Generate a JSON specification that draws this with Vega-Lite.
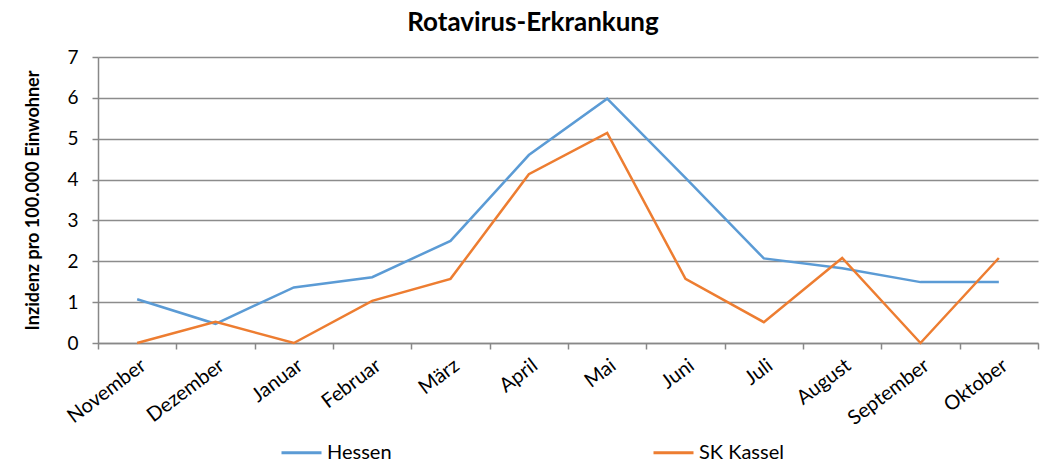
{
  "$schema": "https://vega.github.io/schema/vega-lite/v6.json",
  "autosize": "none",
  "width": 940,
  "height": 286,
  "padding": {"left": 98, "top": 57, "right": 15, "bottom": 119},
  "background": "white",
  "config": {"font": "Lato", "view": {"stroke": null}},
  "title": {"text": "Rotavirus-Erkrankung", "font": "Lato", "fontSize": 26, "fontWeight": "bold", "color": "#000000", "anchor": "middle", "offset": 12, "dx": -35},
  "data": {"values": [
    {"m": "November", "s": "Hessen", "v": 1.07},
    {"m": "Dezember", "s": "Hessen", "v": 0.47},
    {"m": "Januar", "s": "Hessen", "v": 1.36},
    {"m": "Februar", "s": "Hessen", "v": 1.61},
    {"m": "März", "s": "Hessen", "v": 2.5},
    {"m": "April", "s": "Hessen", "v": 4.6},
    {"m": "Mai", "s": "Hessen", "v": 5.98},
    {"m": "Juni", "s": "Hessen", "v": 4.04},
    {"m": "Juli", "s": "Hessen", "v": 2.07},
    {"m": "August", "s": "Hessen", "v": 1.83},
    {"m": "September", "s": "Hessen", "v": 1.49},
    {"m": "Oktober", "s": "Hessen", "v": 1.49},
    {"m": "November", "s": "SK Kassel", "v": 0},
    {"m": "Dezember", "s": "SK Kassel", "v": 0.52},
    {"m": "Januar", "s": "SK Kassel", "v": 0},
    {"m": "Februar", "s": "SK Kassel", "v": 1.03},
    {"m": "März", "s": "SK Kassel", "v": 1.57},
    {"m": "April", "s": "SK Kassel", "v": 4.13},
    {"m": "Mai", "s": "SK Kassel", "v": 5.14},
    {"m": "Juni", "s": "SK Kassel", "v": 1.57},
    {"m": "Juli", "s": "SK Kassel", "v": 0.51},
    {"m": "August", "s": "SK Kassel", "v": 2.08},
    {"m": "September", "s": "SK Kassel", "v": 0},
    {"m": "Oktober", "s": "SK Kassel", "v": 2.08}
  ]},
  "mark": {"type": "line", "strokeWidth": 2.5},
  "encoding": {
    "x": {
      "field": "m", "type": "nominal", "sort": null,
      "scale": {"paddingInner": 0, "paddingOuter": 0},
      "axis": {
        "title": null, "labelAngle": -37, "labelAlign": "right", "labelBaseline": "top",
        "labelFont": "Lato", "labelFontSize": 20, "labelColor": "#000000", "labelPadding": 6, "labelOffset": 0,
        "domainColor": "#888888", "domainWidth": 1.5, "tickColor": "#888888", "tickWidth": 1.5, "tickSize": 6,
        "tickBand": "extent", "grid": false
      }
    },
    "y": {
      "field": "v", "type": "quantitative",
      "scale": {"domain": [0, 7], "nice": false},
      "axis": {
        "title": "Inzidenz pro 100.000 Einwohner", "titleFont": "Lato", "titleFontSize": 18, "titleFontWeight": "bold",
        "titleColor": "#000000", "titlePadding": 24,
        "values": [0, 1, 2, 3, 4, 5, 6, 7], "labelFont": "Lato", "labelFontSize": 19, "labelColor": "#000000", "labelPadding": 14,
        "domainColor": "#888888", "domainWidth": 1.5, "tickColor": "#888888", "tickWidth": 1.5, "tickSize": 6,
        "gridColor": "#8c8c8c", "gridWidth": 1.5
      }
    },
    "color": {
      "field": "s", "type": "nominal",
      "scale": {"domain": ["Hessen", "SK Kassel"], "range": ["#5b9bd5", "#ed7d31"]},
      "legend": {
        "title": null, "orient": "none", "direction": "horizontal", "legendX": 182, "legendY": 374,
        "symbolType": "stroke", "symbolStrokeWidth": 3, "symbolSize": 1600, "labelFont": "Lato", "labelFontSize": 20,
        "labelColor": "#000000", "columnPadding": 255, "labelLimit": 300
      }
    }
  }
}
